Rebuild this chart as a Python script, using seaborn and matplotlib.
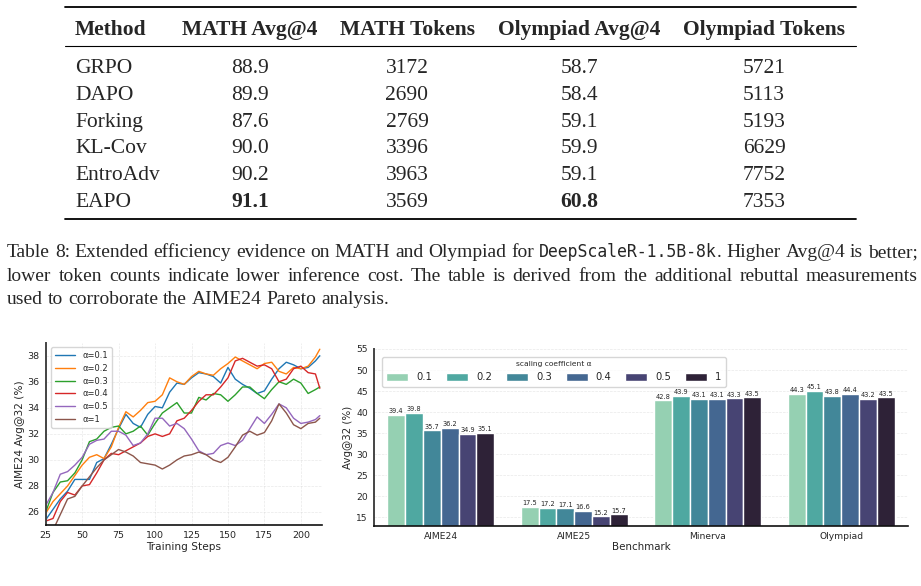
import pandas as pd
import matplotlib.pyplot as plt
from matplotlib.lines import Line2D
import seaborn as sns

# ---- Tabla ----
methods = ['GRPO', 'DAPO', 'Forking', 'KL-Cov', 'EntroAdv', 'EAPO']
math_avg = [88.9, 89.9, 87.6, 90.0, 90.2, 91.1]
math_tokens = [3172, 2690, 2769, 3396, 3963, 3569]
oly_avg = [58.7, 58.4, 59.1, 59.9, 59.1, 60.8]
oly_tokens = [5721, 5113, 5193, 6629, 7752, 7353]
headers = ['Method', 'MATH Avg@4', 'MATH Tokens', 'Olympiad Avg@4', 'Olympiad Tokens']

# ---- Curvas de entrenamiento ----
steps = [25, 30, 35, 40, 45, 50, 55, 60, 65, 70, 75, 80, 85, 90, 95, 100, 105, 110, 115, 120,
         125, 130, 135, 140, 145, 150, 155, 160, 165, 170, 175, 180, 185, 190, 195, 200, 205, 210, 213]
alpha_labels = ['α=0.1', 'α=0.2', 'α=0.3', 'α=0.4', 'α=0.5', 'α=1']
curve_01 = [25.4, 26.2, 27.0, 27.6, 28.5, 28.5, 28.5, 29.8, 30.1, 31.2, 32.4, 33.5, 32.8, 32.5, 33.5, 34.1, 34.0, 35.2, 35.9, 35.8,
            36.3, 36.7, 36.6, 36.4, 35.9, 37.1, 36.2, 35.8, 35.5, 35.1, 35.3, 36.2, 37.0, 37.5, 37.3, 37.0, 37.1, 37.6, 38.0]
curve_02 = [25.9, 26.8, 27.4, 28.0, 28.8, 29.6, 30.2, 30.4, 30.1, 31.0, 32.5, 33.7, 33.3, 33.8, 34.4, 34.5, 35.0, 36.3, 36.0, 35.8,
            36.4, 36.8, 36.6, 36.5, 37.0, 37.4, 37.9, 37.6, 37.3, 37.0, 37.4, 37.5, 36.8, 36.6, 37.1, 37.0, 37.2, 37.9, 38.5]
curve_03 = [26.0, 27.5, 28.3, 28.4, 29.0, 30.0, 31.4, 31.6, 32.2, 32.5, 32.6, 32.0, 32.2, 32.6, 31.9, 32.8, 33.6, 34.0, 34.4, 33.6,
            33.6, 34.8, 34.6, 35.1, 35.0, 34.5, 35.0, 35.6, 35.6, 35.1, 34.7, 35.4, 36.0, 35.8, 36.2, 35.9, 35.1, 35.4, 35.6]
curve_04 = [25.3, 25.5, 26.8, 27.5, 27.3, 28.0, 28.1, 29.0, 30.0, 30.5, 30.4, 30.7, 31.0, 31.3, 31.8, 32.0, 31.8, 32.0, 33.0, 33.2,
            33.8, 34.5, 35.0, 35.0, 35.6, 36.3, 37.6, 37.8, 37.5, 37.2, 37.3, 37.0, 36.0, 36.2, 37.0, 37.2, 36.7, 36.6, 35.5]
curve_05 = [26.5, 27.5, 28.9, 29.1, 29.6, 30.2, 31.2, 31.5, 31.6, 32.2, 32.2, 31.9, 31.1, 31.3, 32.0, 33.2, 33.2, 32.6, 32.8, 32.4,
            31.6, 30.7, 30.4, 30.5, 31.1, 31.3, 31.1, 31.5, 32.4, 33.3, 32.8, 33.5, 34.3, 34.0, 33.2, 32.8, 32.9, 33.1, 33.4]
curve_1 = [24.0, 24.6, 25.8, 27.0, 27.2, 28.0, 28.7, 29.4, 30.0, 30.4, 30.8, 30.6, 30.3, 29.8, 29.7, 29.6, 29.3, 29.6, 30.0, 30.3,
           30.4, 30.6, 30.4, 30.0, 29.8, 30.2, 31.0, 31.9, 32.2, 31.9, 32.1, 33.0, 34.3, 33.6, 32.7, 32.4, 32.8, 32.9, 33.2]

# ---- Barras por benchmark ----
benchmarks = ['AIME24', 'AIME25', 'Minerva', 'Olympiad']
coef_labels = ['0.1', '0.2', '0.3', '0.4', '0.5', '1']
bar_01 = [39.4, 17.5, 42.8, 44.3]
bar_02 = [39.8, 17.2, 43.9, 45.1]
bar_03 = [35.7, 17.1, 43.1, 43.8]
bar_04 = [36.2, 16.6, 43.1, 44.4]
bar_05 = [34.9, 15.2, 43.3, 43.2]
bar_1 = [35.1, 15.7, 43.5, 43.5]

sns.set_style('white')
plt.rcParams['font.family'] = ['DejaVu Sans']

W, H = 921, 586
fig = plt.figure(figsize=(W / 100, H / 100), dpi=100)
renderer = fig.canvas.get_renderer()
serif = 'Liberation Serif'
mono = 'DejaVu Sans Mono'


def fx(x):
    return x / W


def fy(y):
    return 1 - y / H


def hline(y, x0, x1, lw):
    fig.add_artist(Line2D([fx(x0), fx(x1)], [fy(y), fy(y)], color='black', linewidth=lw,
                          transform=fig.transFigure))


# Tabla
tsize = 15.5
col_x = [75, 250, 407, 579, 764]
hline(7.3, 65, 856, 1.3)
hline(45.7, 65, 856, 0.8)
hline(219.3, 65, 856, 1.3)
for i, h in enumerate(headers):
    fig.text(fx(col_x[i]), fy(35), h, fontsize=tsize, family=serif, fontweight='bold',
             ha='left' if i == 0 else 'center', va='baseline')

best_math = max(math_avg)
best_oly = max(oly_avg)
for r, m in enumerate(methods):
    yb = 73.3 + r * 26.7
    row = [m, f'{math_avg[r]:.1f}', str(math_tokens[r]), f'{oly_avg[r]:.1f}', str(oly_tokens[r])]
    bold = [False, math_avg[r] == best_math, False, oly_avg[r] == best_oly, False]
    for i, v in enumerate(row):
        fig.text(fx(col_x[i]), fy(yb), v, fontsize=tsize, family=serif,
                 fontweight='bold' if bold[i] else 'normal',
                 ha='left' if i == 0 else 'center', va='baseline')

# Leyenda de la tabla (texto justificado)
csize = 14
line1 = ['Table', '8:', 'Extended', 'efficiency', 'evidence', 'on', 'MATH', 'and', 'Olympiad', 'for',
         [('DeepScaleR-1.5B-8k', mono), ('.', serif)], 'Higher', 'Avg@4', 'is', 'better;']
line2 = 'lower token counts indicate lower inference cost. The table is derived from the additional rebuttal measurements'.split()
line3 = 'used to corroborate the AIME24 Pareto analysis.'.split()


def put_words(words, yb, x0, x1, justify):
    groups = []
    for w in words:
        segs = w if isinstance(w, list) else [(w, serif)]
        arts = []
        for txt, fam in segs:
            t = fig.text(0, fy(yb), txt, fontsize=csize * (0.85 if fam == mono else 1), family=fam,
                         ha='left', va='baseline')
            arts.append((t, t.get_window_extent(renderer).width))
        groups.append(arts)
    widths = [sum(a[1] for a in g) for g in groups]
    if justify:
        gap = (x1 - x0 - sum(widths)) / (len(groups) - 1)
    else:
        gap = csize * 100 / 72 * 0.25
    x = x0
    for g in groups:
        for t, wd in g:
            t.set_x(fx(x))
            x += wd
        x += gap


put_words(line1, 257, 7, 918, True)
put_words(line2, 280.5, 7, 918, True)
put_words(line3, 304, 7, 918, False)

# Gráfico de líneas
ax1 = fig.add_axes([fx(45.7), fy(525), fx(322) - fx(45.7), fy(342.7) - fy(525)])
curves = [curve_01, curve_02, curve_03, curve_04, curve_05, curve_1]
df_lines = pd.DataFrame({
    'step': steps * len(curves),
    'value': sum(curves, []),
    'alpha': [lab for lab in alpha_labels for _ in steps],
})
sns.lineplot(data=df_lines, x='step', y='value', hue='alpha', hue_order=alpha_labels,
             palette='tab10', linewidth=1.0, ax=ax1)
ax1.set_xlim(25, 214.5)
ax1.set_ylim(25, 39)
ax1.set_xticks([25, 50, 75, 100, 125, 150, 175, 200])
ax1.set_yticks([26, 28, 30, 32, 34, 36, 38])
ax1.tick_params(labelsize=6.8, length=2.5, width=0.6, pad=2)
ax1.set_xlabel('Training Steps', fontsize=7.6, labelpad=1)
ax1.set_ylabel('AIME24 Avg@32 (%)', fontsize=7.6, labelpad=2)
ax1.grid(True, linestyle='--', linewidth=0.5, alpha=0.45)
sns.despine(ax=ax1)
ax1.spines['left'].set_color('#444444')
ax1.spines['left'].set_linewidth(1.4)
ax1.spines['bottom'].set_color('#111111')
ax1.spines['bottom'].set_linewidth(1.2)
ax1.legend(loc='upper left', fontsize=6, handlelength=2.4, frameon=True, borderpad=0.5,
           labelspacing=0.45, bbox_to_anchor=(0.005, 1.0))

# Gráfico de barras
ax2 = fig.add_axes([fx(374), fy(525.7), fx(908) - fx(374), fy(349) - fy(525.7)])
bars = [bar_01, bar_02, bar_03, bar_04, bar_05, bar_1]
df_bars = pd.DataFrame({
    'Benchmark': benchmarks * len(bars),
    'value': sum(bars, []),
    'coef': [c for c in coef_labels for _ in benchmarks],
})
sns.barplot(data=df_bars, x='Benchmark', y='value', hue='coef', hue_order=coef_labels,
            palette='mako_r', width=0.8, ax=ax2)
for cont in ax2.containers:
    ax2.bar_label(cont, fmt='%.1f', fontsize=4.8, padding=0.5)
ax2.set_xlim(-0.5, 3.5)
ax2.set_ylim(13, 55)
ax2.set_yticks([15, 20, 25, 30, 35, 40, 45, 50, 55])
ax2.tick_params(axis='y', labelsize=6.6, length=2.5, width=0.6, pad=2)
ax2.tick_params(axis='x', labelsize=6.6, length=2.5, width=0.6, pad=2)
ax2.set_xlabel('Benchmark', fontsize=7.4, labelpad=1)
ax2.set_ylabel('Avg@32 (%)', fontsize=7.4, labelpad=2)
ax2.grid(True, axis='y', linestyle='--', linewidth=0.5, alpha=0.45)
ax2.set_axisbelow(True)
sns.despine(ax=ax2)
ax2.spines['left'].set_color('#444444')
ax2.spines['left'].set_linewidth(1.4)
ax2.spines['bottom'].set_color('#111111')
ax2.spines['bottom'].set_linewidth(1.2)
sns.move_legend(ax2, 'upper left', bbox_to_anchor=(0.005, 0.985), ncol=6,
                title='scaling coefficient α', fontsize=7.2, title_fontsize=5.4,
                handlelength=2.2, handleheight=0.8, handletextpad=0.8, columnspacing=1.4,
                frameon=True, borderpad=0.45)

fig.savefig('out.png', dpi=100)
